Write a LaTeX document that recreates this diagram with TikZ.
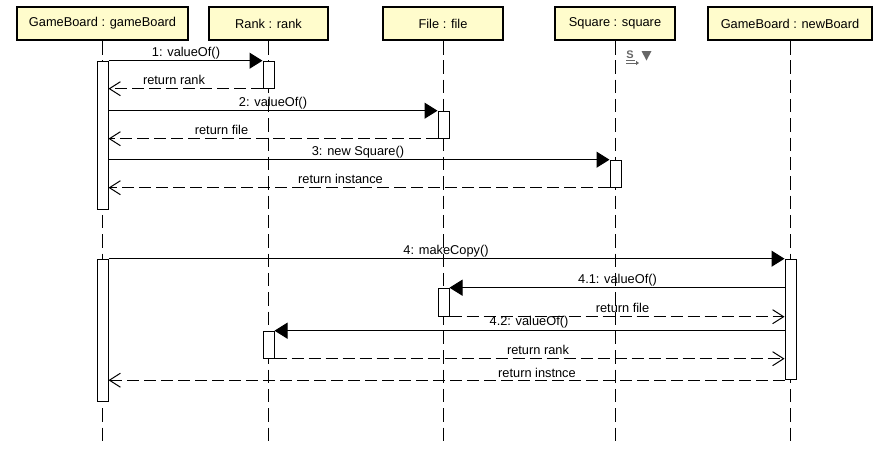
\documentclass[tikz,border=0pt]{standalone}
\usepackage{fontspec}
\setmainfont{Liberation Sans}
\usetikzlibrary{arrows.meta}

\begin{document}
\begin{tikzpicture}[
  x=1pt, y=-1pt,
  head/.style={draw, line width=2pt, fill=yellow!20, minimum height=33pt, inner sep=0pt,
               font=\fontsize{12.8}{14}\selectfont},
  life/.style={line width=1pt, dash pattern=on 13.5pt off 5.83pt},
  act/.style={draw, line width=1pt, fill=white, minimum width=11pt, inner sep=0pt},
  call/.style={line width=1pt, -{Triangle[length=13pt,width=16pt]}},
  back/.style={line width=1pt, dash pattern=on 12pt off 5pt, -{Straight Barb[length=11pt,width=14pt]}},
  lab/.style={font=\fontsize{12.8}{14}\selectfont, inner sep=0pt}
]
  \useasboundingbox (0,0) rectangle (885,466);

  % Object heads
  \node[head, minimum width=171pt] (gameBoard) at (102.5,23.5) {GameBoard : gameBoard};
  \node[head, minimum width=119pt] (rank)      at (268.5,23.5) {Rank : rank};
  \node[head, minimum width=120pt] (file)      at (443,23.5)   {File : file};
  \node[head, minimum width=120pt] (square)    at (615,23.5)   {Square : square};
  \node[head, minimum width=164pt] (newBoard)  at (790,23.5)   {GameBoard : newBoard};

  % Lifelines
  \coordinate (gameBoardEnd) at (102,442);
  \coordinate (rankEnd)      at (268,442);
  \coordinate (fileEnd)      at (443,442);
  \coordinate (squareEnd)    at (615,442);
  \coordinate (newBoardEnd)  at (790,442);
  \draw[life] (gameBoard.south -| gameBoardEnd) -- (gameBoardEnd);
  \draw[life] (rank.south -| rankEnd)           -- (rankEnd);
  \draw[life] (file.south -| fileEnd)           -- (fileEnd);
  \draw[life] (square.south -| squareEnd)       -- (squareEnd);
  \draw[life] (newBoard.south -| newBoardEnd)   -- (newBoardEnd);

  % Activations
  \node[act, minimum height=148pt]   (gameBoardA) at (102.5,135.2)  {};
  \node[act, minimum height=142pt]   (gameBoardB) at (102.5,330.2)  {};
  \node[act, minimum height=27pt]    (rankA)      at (268.5,74.7)   {};
  \node[act, minimum height=27pt]    (rankB)      at (268.5,344.7)  {};
  \node[act, minimum height=27pt]    (fileA)      at (443.5,124.7)  {};
  \node[act, minimum height=28pt]    (fileB)      at (443.5,302.2)  {};
  \node[act, minimum height=27pt]    (squareA)    at (615.5,173.7)  {};
  \node[act, minimum height=120.5pt] (newBoardA)  at (790.5,319.45) {};

  % Messages
  \draw[call] (gameBoardA.north east) -- (rankA.north west);
  \draw[back] (rankA.south west) -- (gameBoardA.east |- rankA.south west);
  \draw[call] (gameBoardA.east |- fileA.north west) -- (fileA.north west);
  \draw[back] (fileA.south west) -- (gameBoardA.east |- fileA.south west);
  \draw[call] (gameBoardA.east |- squareA.north west) -- (squareA.north west);
  \draw[back] (squareA.south west) -- (gameBoardA.east |- squareA.south west);
  \draw[call] (gameBoardB.north east) -- (newBoardA.north west);
  \draw[call] (newBoardA.west |- fileB.north east) -- (fileB.north east);
  \draw[back] (fileB.south east) -- (newBoardA.west |- fileB.south east);
  \draw[call] (newBoardA.west |- rankB.north east) -- (rankB.north east);
  \draw[back] (rankB.south east) -- (newBoardA.west |- rankB.south east);
  \draw[back] (newBoardA.south west) -- (gameBoardB.east |- newBoardA.south west);

  % Message labels
  \node[lab] (m1)  at (186,53)    {1: valueOf()};
  \node[lab] (r1)  at (174,80)    {return rank};
  \node[lab] (m2)  at (273,103)   {2: valueOf()};
  \node[lab] (r2)  at (221.5,130) {return file};
  \node[lab] (m3)  at (358,152)   {3: new Square()};
  \node[lab] (r3)  at (340.5,179) {return instance};
  \node[lab] (m4)  at (446,251)   {4: makeCopy()};
  \node[lab] (m41) at (617.5,280) {4.1: valueOf()};
  \node[lab] (r41) at (622.5,308) {return file};
  \node[lab] (m42) at (529,322)   {4.2: valueOf()};
  \node[lab] (r42) at (538,350)   {return rank};
  \node[lab] (r43) at (537,373)   {return instnce};

  % Small grey marker beside the square lifeline
  \node[inner sep=0pt, font=\fontsize{11}{11}\bfseries\selectfont, text=black!60] (markS) at (630,54.5) {S};
  \draw[black!60, line width=1.5pt] (626,60.5) -- (635,60.5);
  \draw[black!60, line width=1pt, -{Triangle[length=3pt,width=4pt]}] (626,63) -- (639,63);
  \fill[black!60] (641.5,51) -- (651.5,51) -- (646.5,60.5) -- cycle;
\end{tikzpicture}
\end{document}
